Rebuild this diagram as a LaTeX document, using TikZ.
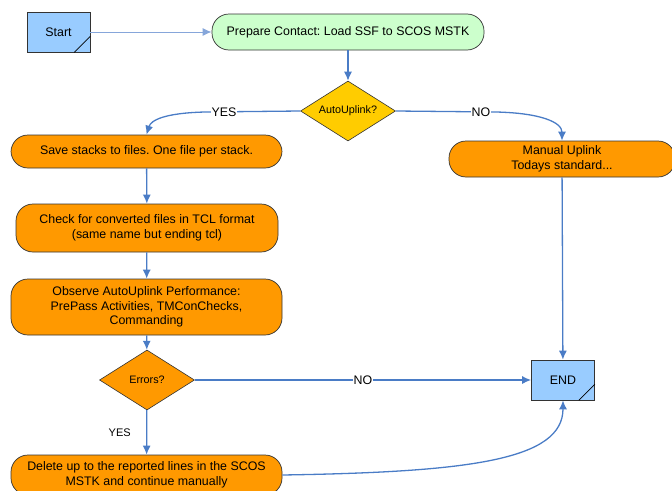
\documentclass[tikz,border=0pt]{standalone}
\usepackage{fontspec}
\setmainfont{Liberation Sans}
\usetikzlibrary{arrows,arrows.meta,shapes.geometric}
\frenchspacing

\definecolor{termblue}{HTML}{99CCFF}
\definecolor{prepgreen}{HTML}{CCFFCC}
\definecolor{steporange}{HTML}{FF9900}
\definecolor{askyellow}{HTML}{FFCC00}
\definecolor{flowblue}{HTML}{4A7CC6}
\definecolor{flowlight}{HTML}{86A6DA}

\begin{document}
\begin{tikzpicture}[
x=1pt, y=-1pt,
term/.style={draw=black!80, fill=termblue, line width=0.7pt, minimum width=63pt, minimum height=40pt, font=\fontsize{12.4}{14.5}\selectfont},
pill/.style={draw=black!80, fill=steporange, line width=0.7pt, rounded corners=17pt, align=center, font=\fontsize{12.4}{14.5}\selectfont, inner sep=2pt},
ask/.style={diamond, aspect=1.6, draw=black!80, line width=0.6pt, minimum width=95pt, minimum height=60pt, inner sep=0pt, font=\fontsize{10.8}{12}\selectfont},
lbl/.style={fill=white, inner sep=1pt, font=\fontsize{12.4}{14}\selectfont},
arrow/.style={-{Latex[length=9pt,width=8pt]}, draw=flowblue, line width=1.3pt} ]

\useasboundingbox (0,0) rectangle (672,490);

\node[term] (start) at (58.5,32) {Start};
\node[pill, fill=prepgreen, minimum width=272pt, minimum height=36pt] (prep) at (348,32) {Prepare Contact: Load SSF to SCOS MSTK};
\node[ask, fill=askyellow] (auto) at (348,111) {AutoUplink?};
\node[pill, minimum width=226pt, minimum height=36pt] (manual) at (562,159) {Manual Uplink\\Todays standard...};
\node[pill, minimum width=271pt, minimum height=33pt] (save) at (146.5,151.5) {Save stacks to files. One file per stack.};
\node[pill, minimum width=262pt, minimum height=48pt] (check) at (147,228) {Check for converted files in TCL format\\(same name but ending tcl)};
\node[pill, minimum width=271pt, minimum height=56pt] (observe) at (146.5,307) {Observe AutoUplink Performance:\\PrePass Activities, TMConChecks,\\Commanding};
\node[ask, fill=steporange] (errors) at (147,380) {Errors?};
\node[term] (end) at (563,380) {END};
\node[pill, minimum width=271pt, minimum height=40pt] (delete) at (146.5,475) {Delete up to the reported lines in the SCOS\\MSTK and continue manually};

% folded corners
\draw[line width=0.7pt] ([xshift=-16pt]start.south east) -- ([yshift=16pt]start.south east);
\draw[line width=0.7pt] ([xshift=-16pt]end.south east) -- ([yshift=16pt]end.south east);

\draw[arrow, draw=flowlight, line width=1pt] (start) -- (prep);
\draw[arrow] (prep) -- (auto);
\draw[arrow] (auto.west) -- node[lbl, pos=0.8] {YES} (205,112) .. controls (165,113) and (151,120) .. (save.north);
\draw[arrow] (auto.east) -- node[lbl, pos=0.85] {NO} (496,112) .. controls (540,113) and (562,122) .. (manual.north);
\draw[arrow] (save) -- (check);
\draw[arrow] (check) -- (observe);
\draw[arrow] (observe) -- (errors);
\draw[arrow] (errors) -- node[lbl] {NO} (end);
\draw[arrow] (errors) -- node[left=12pt, font=\fontsize{11}{13}\selectfont] {YES} (delete);
\draw[arrow] (manual) -- (end);
\draw[arrow] (delete.east) .. controls (470,472) and (563,460) .. (end.south);

\end{tikzpicture}
\end{document}
